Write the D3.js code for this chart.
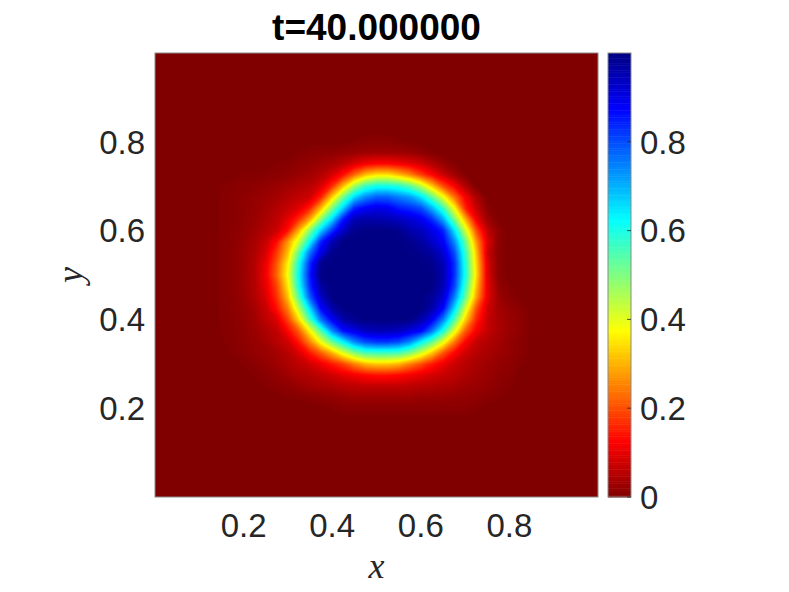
<!DOCTYPE html>
<html><head><meta charset="utf-8">
<script src="https://cdn.jsdelivr.net/npm/d3@7"></script>
<style>body{margin:0;background:#fff}</style>
</head><body>
<svg id="chart" width="789" height="592"></svg>
<script>
// ---------- data ----------
const titleText = "t=40.000000";
const xLabel = "x", yLabel = "y";
const xTicks = [0.2, 0.4, 0.6, 0.8];
const yTicks = [0.2, 0.4, 0.6, 0.8];
const cbTicks = [0, 0.2, 0.4, 0.6, 0.8];
const cbDomain = [0, 1];
const fieldDomain = [0, 1];          // full square; outside the sampled window the field is 0
// sampled window: grid nodes (x left->right, y top->bottom)
const gridX = [0.125,0.15,0.175,0.2,0.225,0.25,0.275,0.3,0.325,0.35,0.375,0.4,0.425,0.45,0.475,0.5,
               0.525,0.55,0.575,0.6,0.625,0.65,0.675,0.7,0.725,0.75,0.775,0.8,0.825,0.85,0.875];
const gridY = [0.825,0.8,0.775,0.75,0.725,0.7,0.675,0.65,0.625,0.6,0.575,0.55,0.525,0.5,
               0.475,0.45,0.425,0.4,0.375,0.35,0.325,0.3,0.275,0.25,0.225,0.2,0.175];
// field values u(x,y), one row per y
const row_0825 = [0,0,0,0,0,0,0,0,0,0,0,0,0,0,0,0,0,0,0,0,0,0,0,0,0,0,0,0,0,0,0];
const row_0800 = [0,0,0,0,0,0,0,0,0,0,0,0,0,0.005,0.01,0.01,0.01,0.005,0,0,0,0,0,0,0,0,0,0,0,0,0];
const row_0775 = [0,0,0,0,0,0,0,0,0.005,0.01,0.012,0.015,0.02,0.025,0.03,0.03,0.03,0.03,0.025,0.015,0.005,0,0,0,0,0,0,0,0,0,0];
const row_0750 = [0,0,0,0,0,0,0.005,0.008,0.015,0.02,0.03,0.04,0.06,0.09,0.115,0.13,0.13,0.115,0.1,0.08,0.05,0.025,0.005,0,0,0,0,0,0,0,0];
const row_0725 = [0,0,0,0.005,0.005,0.008,0.01,0.015,0.025,0.035,0.05,0.085,0.14,0.23,0.31,0.35,0.35,0.31,0.26,0.19,0.13,0.075,0.035,0.005,0,0,0,0,0,0,0];
const row_0700 = [0,0.004,0.007,0.01,0.014,0.02,0.025,0.035,0.045,0.055,0.09,0.17,0.31,0.46,0.56,0.6,0.6,0.58,0.53,0.44,0.32,0.2,0.125,0.05,0,0,0,0,0,0,0];
const row_0675 = [0,0.005,0.009,0.014,0.02,0.028,0.035,0.05,0.065,0.08,0.16,0.33,0.51,0.66,0.74,0.78,0.78,0.75,0.72,0.65,0.53,0.39,0.24,0.12,0.045,0,0,0,0,0,0];
const row_0650 = [0,0.005,0.009,0.015,0.022,0.035,0.05,0.07,0.095,0.16,0.31,0.5,0.67,0.84,0.88,0.9,0.89,0.85,0.83,0.8,0.7,0.57,0.38,0.16,0.07,0.01,0,0,0,0,0];
const row_0625 = [0,0.005,0.009,0.015,0.026,0.04,0.06,0.1,0.17,0.29,0.49,0.66,0.85,0.95,0.96,0.96,0.95,0.94,0.92,0.89,0.83,0.71,0.51,0.3,0.11,0.03,0,0,0,0,0];
const row_0600 = [0,0.005,0.01,0.018,0.032,0.05,0.075,0.14,0.3,0.49,0.67,0.82,0.93,0.99,1,1,1,0.99,0.96,0.94,0.9,0.84,0.65,0.42,0.2,0.065,0.015,0,0,0,0];
const row_0575 = [0,0.006,0.012,0.022,0.04,0.07,0.135,0.27,0.42,0.62,0.84,0.95,1,1,1,1,1,1,0.99,0.97,0.93,0.88,0.74,0.52,0.27,0.09,0.01,0,0,0,0];
const row_0550 = [0,0.006,0.013,0.025,0.045,0.085,0.18,0.31,0.53,0.76,0.9,0.99,1,1,1,1,1,1,1,0.99,0.97,0.92,0.8,0.57,0.31,0.075,0.01,0,0,0,0];
const row_0525 = [0,0.006,0.013,0.026,0.052,0.105,0.21,0.36,0.6,0.83,0.99,1,1,1,1,1,1,1,1,1,0.99,0.95,0.83,0.59,0.33,0.09,0.01,0,0,0,0];
const row_0500 = [0,0.006,0.013,0.026,0.052,0.11,0.22,0.375,0.62,0.85,1,1,1,1,1,1,1,1,1,1,1,0.96,0.83,0.6,0.34,0.09,0.01,0,0,0,0];
const row_0475 = [0,0.006,0.013,0.026,0.05,0.1,0.19,0.35,0.6,0.83,0.97,1,1,1,1,1,1,1,1,1,1,0.95,0.81,0.57,0.31,0.1,0.02,0.005,0,0,0];
const row_0450 = [0,0.006,0.012,0.024,0.047,0.087,0.17,0.31,0.54,0.78,0.93,1,1,1,1,1,1,1,1,1,0.98,0.92,0.75,0.52,0.28,0.1,0.03,0.01,0,0,0];
const row_0425 = [0,0.005,0.011,0.02,0.036,0.07,0.14,0.25,0.44,0.66,0.87,0.96,1,1,1,1,1,1,1,1,0.96,0.87,0.66,0.42,0.2,0.08,0.035,0.02,0.01,0,0];
const row_0400 = [0,0.005,0.01,0.018,0.032,0.06,0.09,0.19,0.34,0.55,0.76,0.88,0.96,0.99,1,1,1,1,1,0.96,0.89,0.75,0.55,0.33,0.16,0.07,0.04,0.025,0.015,0,0];
const row_0375 = [0,0.004,0.008,0.015,0.027,0.045,0.065,0.13,0.22,0.375,0.55,0.74,0.86,0.9,0.94,0.95,0.95,0.94,0.91,0.875,0.76,0.6,0.41,0.22,0.12,0.07,0.04,0.025,0.015,0,0];
const row_0350 = [0,0.003,0.007,0.014,0.022,0.035,0.055,0.08,0.15,0.26,0.39,0.52,0.63,0.74,0.8,0.82,0.82,0.8,0.74,0.63,0.53,0.4,0.25,0.13,0.07,0.05,0.035,0.02,0.01,0,0];
const row_0325 = [0,0,0.005,0.01,0.02,0.025,0.035,0.055,0.09,0.15,0.22,0.3,0.4,0.49,0.55,0.56,0.56,0.55,0.5,0.42,0.32,0.21,0.13,0.08,0.055,0.04,0.03,0.02,0.01,0,0];
const row_0300 = [0,0,0,0.005,0.01,0.02,0.03,0.045,0.06,0.08,0.11,0.15,0.19,0.25,0.3,0.32,0.32,0.3,0.25,0.2,0.15,0.11,0.075,0.055,0.04,0.03,0.02,0.015,0.005,0,0];
const row_0275 = [0,0,0,0,0.005,0.01,0.02,0.03,0.045,0.05,0.065,0.08,0.1,0.115,0.13,0.14,0.14,0.13,0.115,0.1,0.085,0.07,0.06,0.045,0.035,0.025,0.015,0.01,0,0,0];
const row_0250 = [0,0,0,0,0,0.005,0.01,0.015,0.025,0.035,0.04,0.045,0.055,0.06,0.065,0.065,0.065,0.065,0.06,0.055,0.05,0.045,0.04,0.03,0.025,0.02,0.01,0.005,0,0,0];
const row_0225 = [0,0,0,0,0,0,0,0.005,0.005,0.01,0.015,0.02,0.025,0.03,0.03,0.03,0.03,0.03,0.03,0.025,0.025,0.025,0.02,0.02,0.015,0.01,0.005,0,0,0,0];
const row_0200 = [0,0,0,0,0,0,0,0,0,0,0,0.005,0.01,0.01,0.01,0.01,0.01,0.01,0.01,0.01,0.01,0.01,0.01,0.01,0.005,0,0,0,0,0,0];
const row_0175 = [0,0,0,0,0,0,0,0,0,0,0,0,0,0,0,0,0,0,0,0,0,0,0,0,0,0,0,0,0,0,0];
const field = [row_0825,row_0800,row_0775,row_0750,row_0725,row_0700,row_0675,row_0650,row_0625,
               row_0600,row_0575,row_0550,row_0525,row_0500,row_0475,row_0450,row_0425,row_0400,
               row_0375,row_0350,row_0325,row_0300,row_0275,row_0250,row_0225,row_0200,row_0175];

// ---------- layout ----------
const svg = d3.select("#chart");
const plot = {left: 155, right: 598, top: 53, bottom: 497};
const cb = {left: 608, right: 631};
const x = d3.scaleLinear().domain(fieldDomain).range([plot.left, plot.right]);
const y = d3.scaleLinear().domain(fieldDomain).range([plot.bottom, plot.top]);
const cbY = d3.scaleLinear().domain(cbDomain).range([plot.bottom, plot.top]);

// reversed jet colormap
const cmap = d3.scaleLinear()
  .domain([0, 0.125, 0.375, 0.625, 0.875, 1])
  .range(["#800000", "#ff0000", "#ffff00", "#00ffff", "#0000ff", "#000084"])
  .clamp(true);

const textColor = "#262626";
const sans = "'Liberation Sans', Arial, Helvetica, sans-serif";
const serif = "'Liberation Serif', 'DejaVu Serif', serif";

// ---------- field ----------
svg.append("defs").append("clipPath").attr("id", "plotClip")
  .append("rect").attr("x", plot.left).attr("y", plot.top)
  .attr("width", plot.right - plot.left).attr("height", plot.bottom - plot.top);

const gField = svg.append("g").attr("clip-path", "url(#plotClip)");
gField.append("rect")
  .attr("x", x(fieldDomain[0])).attr("y", y(fieldDomain[1]))
  .attr("width", x(fieldDomain[1]) - x(fieldDomain[0]))
  .attr("height", y(fieldDomain[0]) - y(fieldDomain[1]))
  .attr("fill", cmap(0));

const n = gridX.length, m = gridY.length;
const values = field.flat();
const step = 0.004;
const levels = d3.range(step, 1 + 1e-9, step);
const contours = d3.contours().size([n, m]).thresholds(levels)(values);
const gx = d3.scaleLinear().domain([0.5, n - 0.5]).range([gridX[0], gridX[n - 1]]);
const gy = d3.scaleLinear().domain([0.5, m - 0.5]).range([gridY[0], gridY[m - 1]]);
const proj = d3.geoTransform({
  point: function(px, py) { this.stream.point(x(gx(px)), y(gy(py))); }
});
const path = d3.geoPath(proj);

gField.selectAll("path.lvl").data(contours).join("path")
  .attr("class", "lvl")
  .attr("d", path)
  .attr("fill", d => cmap(Math.min(1, d.value + step / 2)))
  .attr("stroke", d => cmap(Math.min(1, d.value + step / 2)))
  .attr("stroke-width", 0.4);

// axes box
svg.append("rect")
  .attr("x", plot.left).attr("y", plot.top)
  .attr("width", plot.right - plot.left).attr("height", plot.bottom - plot.top)
  .attr("fill", "none").attr("stroke", "#8a8a8a").attr("stroke-width", 1);

// tick labels
svg.append("g").selectAll("text").data(xTicks).join("text")
  .attr("x", d => x(d)).attr("y", 537)
  .attr("text-anchor", "middle")
  .attr("font-family", sans).attr("font-size", 33).attr("fill", textColor)
  .text(d => d3.format(".1f")(d));

svg.append("g").selectAll("text").data(yTicks).join("text")
  .attr("x", 145).attr("y", d => y(d))
  .attr("dy", "0.355em")
  .attr("text-anchor", "end")
  .attr("font-family", sans).attr("font-size", 33).attr("fill", textColor)
  .text(d => d3.format(".1f")(d));

// axis labels
svg.append("text")
  .attr("x", x(0.5)).attr("y", 578)
  .attr("text-anchor", "middle")
  .attr("font-family", serif).attr("font-style", "italic")
  .attr("font-size", 36).attr("fill", textColor)
  .text(xLabel);

svg.append("text")
  .attr("transform", `translate(82,${y(0.5)}) rotate(-90)`)
  .attr("text-anchor", "middle")
  .attr("font-family", serif).attr("font-style", "italic")
  .attr("font-size", 36).attr("fill", textColor)
  .text(yLabel);

// title
svg.append("text")
  .attr("x", x(0.5)).attr("y", 40)
  .attr("text-anchor", "middle")
  .attr("font-family", sans).attr("font-weight", "bold")
  .attr("font-size", 37).attr("fill", "#000")
  .text(titleText);

// ---------- colorbar ----------
const cbSteps = d3.range(0, 256).map(i => i / 256);
svg.append("g").selectAll("rect").data(cbSteps).join("rect")
  .attr("x", cb.left)
  .attr("width", cb.right - cb.left)
  .attr("y", d => cbY(d + 1 / 256))
  .attr("height", d => cbY(d) - cbY(d + 1 / 256) + 0.5)
  .attr("fill", d => cmap(d + 0.5 / 256));

svg.append("rect")
  .attr("x", cb.left).attr("y", plot.top)
  .attr("width", cb.right - cb.left).attr("height", plot.bottom - plot.top)
  .attr("fill", "none").attr("stroke", "#8a8a8a").attr("stroke-width", 1);

svg.append("g").selectAll("line").data(cbTicks).join("line")
  .attr("x1", cb.right - 4).attr("x2", cb.right)
  .attr("y1", d => cbY(d)).attr("y2", d => cbY(d))
  .attr("stroke", textColor).attr("stroke-width", 0.8);

svg.append("g").selectAll("text").data(cbTicks).join("text")
  .attr("x", 640).attr("y", d => cbY(d))
  .attr("dy", "0.355em")
  .attr("text-anchor", "start")
  .attr("font-family", sans).attr("font-size", 33).attr("fill", textColor)
  .text(d => d === 0 ? "0" : d3.format(".1f")(d));
</script>
</body></html>
